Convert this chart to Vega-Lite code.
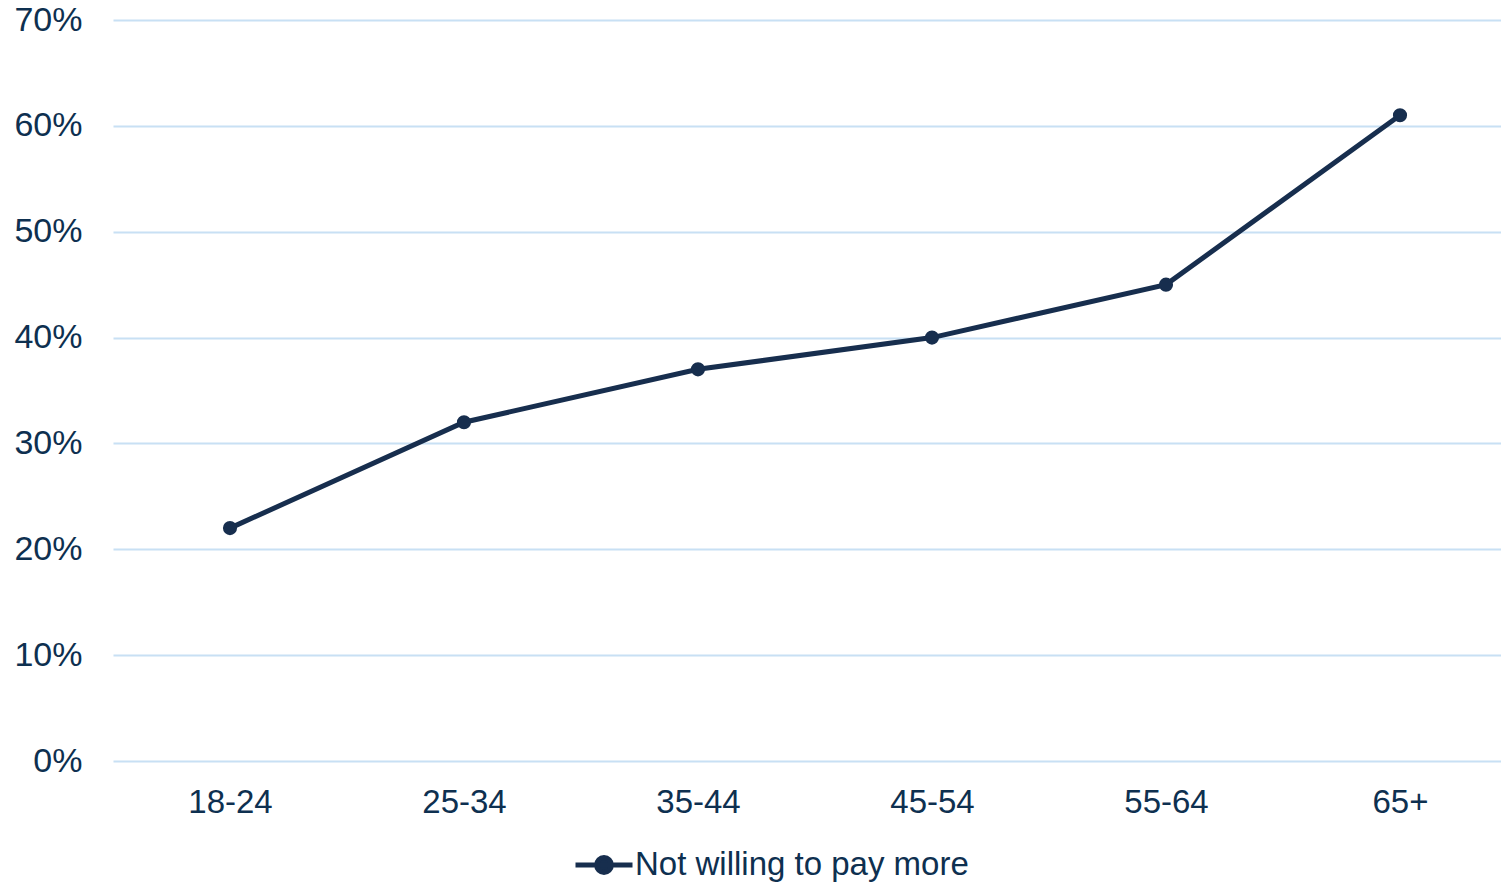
{
  "$schema": "https://vega.github.io/schema/vega-lite/v6.json",
  "width": 1388,
  "height": 741,
  "autosize": {"type": "none"},
  "padding": {"left": 113, "top": 20, "right": 0, "bottom": 121},
  "background": "white",
  "config": {
    "view": {"stroke": null},
    "font": "Liberation Sans"
  },
  "data": {
    "values": [
      {"age": "18-24", "value": 0.22, "series": "Not willing to pay more"},
      {"age": "25-34", "value": 0.32, "series": "Not willing to pay more"},
      {"age": "35-44", "value": 0.37, "series": "Not willing to pay more"},
      {"age": "45-54", "value": 0.40, "series": "Not willing to pay more"},
      {"age": "55-64", "value": 0.45, "series": "Not willing to pay more"},
      {"age": "65+", "value": 0.61, "series": "Not willing to pay more"}
    ]
  },
  "mark": {"type": "line", "strokeWidth": 5, "point": {"filled": true, "size": 200}},
  "encoding": {
    "x": {
      "field": "age",
      "type": "ordinal",
      "sort": null,
      "scale": {"type": "point", "padding": 0.4658, "align": 0.5367},
      "axis": {
        "title": null,
        "labelAngle": 0,
        "labelFontSize": 33,
        "labelColor": "#0e3050",
        "labelPadding": 25,
        "ticks": false,
        "domain": false,
        "grid": false
      }
    },
    "y": {
      "field": "value",
      "type": "quantitative",
      "scale": {"domain": [0, 0.7], "nice": false},
      "axis": {
        "title": null,
        "format": ".0%",
        "values": [0, 0.1, 0.2, 0.3, 0.4, 0.5, 0.6, 0.7],
        "labelFontSize": 34,
        "labelColor": "#0e3050",
        "labelPadding": 31,
        "ticks": false,
        "domain": false,
        "grid": true,
        "gridColor": "#c8e0f4",
        "gridWidth": 2
      }
    },
    "color": {
      "field": "series",
      "type": "nominal",
      "scale": {"range": ["#172e4e"]},
      "legend": {
        "title": null,
        "orient": "none",
        "legendX": 460,
        "legendY": 814,
        "symbolType": "M-1,0H1M-0.26,0A0.26,0.26,0,1,1,0.26,0A0.26,0.26,0,1,1,-0.26,0Z",
        "symbolSize": 3249,
        "symbolStrokeWidth": 5,
        "symbolFillColor": "#172e4e",
        "symbolStrokeColor": "#172e4e",
        "labelFontSize": 33,
        "labelColor": "#0e3050",
        "labelOffset": 0,
        "labelLimit": 1000
      }
    }
  }
}
